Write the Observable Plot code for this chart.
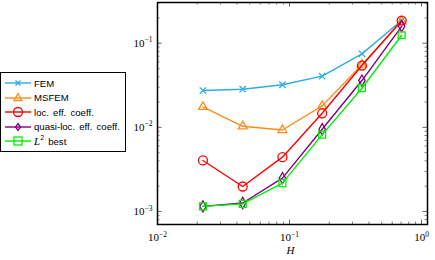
<!DOCTYPE html>
<html>
<head>
<meta charset="utf-8">
<script src="https://cdn.jsdelivr.net/npm/d3@7"></script>
<script src="https://cdn.jsdelivr.net/npm/@observablehq/plot@0.6"></script>
<style>
  html, body { margin: 0; padding: 0; background: #fff; }
  #wrap { position: relative; width: 435px; height: 260px; overflow: hidden; }
  #legend { position: absolute; left: 0px; top: 72px; width: 126px; height: 80px;
    border: 1.3px solid #000; background: #fff; box-sizing: border-box;
    font-family: "Liberation Sans", Arial, sans-serif; font-size: 9.6px; color: #000; }
  .row { position: absolute; left: 0; height: 14px; display: flex; align-items: center; }
  .row svg { display: block; }
  .row span { margin-left: 1px; white-space: pre; word-spacing: 1.5px; }
</style>
</head>
<body>
<div id="wrap"></div>
<script>
// ---- data ----
const H = [0.0221, 0.0442, 0.0884, 0.1768, 0.3536, 0.7071];
const seriesNames = ["FEM", "MSFEM", "loc. eff. coeff.", "quasi-loc. eff. coeff.", "L2 best"];
const fem   = [0.0274, 0.0284, 0.0321, 0.0406, 0.0748, 0.186];
const msfem = [0.0175, 0.0103, 0.0093, 0.0180, 0.0556, 0.182];
const loc   = [0.00404, 0.00198, 0.00442, 0.0147, 0.0543, 0.186];
const quasi = [0.00115, 0.00126, 0.00249, 0.0095, 0.0360, 0.159];
const l2best = [0.00115, 0.00123, 0.00217, 0.0082, 0.0292, 0.1245];
const colors = ["#2aaee6", "#ff8c1a", "#ff0000", "#800080", "#00f000"];
const symbols = ["times", "triangle2", "circle", "diamond", "square2"];
const xMajor = [0.01, 0.1, 1];
const xMinor = [0.02,0.03,0.04,0.05,0.06,0.07,0.08,0.09,0.2,0.3,0.4,0.5,0.6,0.7,0.8,0.9];
const yMajor = [0.001, 0.01, 0.1];
const yMinor = [0.0008,0.0009,0.002,0.003,0.004,0.005,0.006,0.007,0.008,0.009,0.02,0.03,0.04,0.05,0.06,0.07,0.08,0.09,0.2,0.3];

const values = [fem, msfem, loc, quasi, l2best];
const rows = [];
values.forEach((vals, s) => vals.forEach((v, i) => rows.push({series: seriesNames[s], s, H: H[i], v})));

// ---- layout ----
const W = 435, Ht = 260, ml = 157, mr = 8, mt = 2, mb = 36;
const innerW = W - ml - mr, innerH = Ht - mt - mb;
const serif = "'Liberation Serif', 'DejaVu Serif', serif";

const marks = [];
// ticks (inward, all four sides)
marks.push(Plot.tickX(xMajor, {x: d => d, insetTop: innerH - 4.5, stroke: "#000", strokeWidth: 0.6}));
marks.push(Plot.tickX(xMajor, {x: d => d, insetBottom: innerH - 4.5, stroke: "#000", strokeWidth: 0.6}));
marks.push(Plot.tickX(xMinor, {x: d => d, insetTop: innerH - 2.5, stroke: "#000", strokeWidth: 0.5}));
marks.push(Plot.tickX(xMinor, {x: d => d, insetBottom: innerH - 2.5, stroke: "#000", strokeWidth: 0.5}));
marks.push(Plot.tickY(yMajor, {y: d => d, insetRight: innerW - 4.5, stroke: "#000", strokeWidth: 0.6}));
marks.push(Plot.tickY(yMajor, {y: d => d, insetLeft: innerW - 4.5, stroke: "#000", strokeWidth: 0.6}));
marks.push(Plot.tickY(yMinor, {y: d => d, insetRight: innerW - 2.5, stroke: "#000", strokeWidth: 0.5}));
marks.push(Plot.tickY(yMinor, {y: d => d, insetLeft: innerW - 2.5, stroke: "#000", strokeWidth: 0.5}));

// series
seriesNames.forEach((name, s) => {
  const d = rows.filter(r => r.s === s);
  marks.push(Plot.line(d, {x: "H", y: "v", stroke: colors[s], strokeWidth: 1.4}));
  const r = [3, 4.2, 4.5, 3.4, 4.4][s];
  marks.push(Plot.dot(d, {x: "H", y: "v", stroke: colors[s], fill: "none", strokeWidth: 1.3, symbol: () => symbols[s], r}));
});

marks.push(Plot.frame({stroke: "#000", strokeWidth: 1.5}));

// axis labels
marks.push(Plot.axisX(xMajor, {tickSize: 0, tickPadding: 9, tickFormat: d => "10^" + Math.round(Math.log10(d)), fontSize: 11, fontFamily: serif, label: null}));
marks.push(Plot.axisY(yMajor, {tickSize: 0, tickPadding: 5, tickFormat: d => "10^" + Math.round(Math.log10(d)), fontSize: 11, fontFamily: serif, label: null}));
marks.push(Plot.text(["H"], {frameAnchor: "bottom", dy: 29, dx: -2, text: d => d, fontStyle: "italic", fontFamily: serif, fontSize: 11}));

const chart = Plot.plot({
  width: W, height: Ht,
  marginLeft: ml, marginRight: mr, marginTop: mt, marginBottom: mb,
  x: {type: "log", domain: [0.01, 1.11]},
  y: {type: "log", domain: [0.0007, 0.305]},
  style: {background: "#fff", overflow: "visible"},
  marks
});

// superscripts
chart.querySelectorAll("text").forEach(t => {
  const s = t.textContent;
  if (s.startsWith("10^")) {
    const e = s.slice(3).replace("-", "\u2212");
    t.textContent = "";
    const a = document.createElementNS("http://www.w3.org/2000/svg", "tspan");
    a.textContent = "10";
    const b = document.createElementNS("http://www.w3.org/2000/svg", "tspan");
    b.textContent = e;
    b.setAttribute("dy", "-4.5");
    b.setAttribute("font-size", "7.5");
    t.appendChild(a); t.appendChild(b);
  }
});

const wrap = document.getElementById("wrap");
wrap.appendChild(chart);

// legend
const legend = document.createElement("div");
legend.id = "legend";
const rowTops = [3, 17.5, 32, 46.5, 61];
const symDraw = [
  c => `<path d="M14.5,4.5 L19.5,9.5 M14.5,9.5 L19.5,4.5" stroke="${c}" stroke-width="1.3"/>`,
  c => `<path d="M17,2.5 L21,9.5 L13,9.5 Z" stroke="${c}" fill="none" stroke-width="1.3"/>`,
  c => `<circle cx="17" cy="7" r="4.5" stroke="${c}" fill="none" stroke-width="1.3"/>`,
  c => `<path d="M17,3.5 L19.5,7 L17,10.5 L14.5,7 Z" stroke="${c}" fill="none" stroke-width="1.3"/>`,
  c => `<rect x="13" y="3" width="8" height="8" stroke="${c}" fill="none" stroke-width="1.3"/>`
];
const labelsHtml = ["FEM", "MSFEM", "loc. eff. coeff.", "quasi-loc. eff. coeff.",
  `<i style="font-family:${serif.replace(/'/g, "&quot;")};font-size:11px">L</i><sup style="font-size:7px;position:relative;top:-1px">2</sup> best`];
seriesNames.forEach((name, s) => {
  const row = document.createElement("div");
  row.className = "row";
  row.style.top = rowTops[s] + "px";
  row.innerHTML = `<svg width="32" height="14"><line x1="4" y1="7" x2="30" y2="7" stroke="${colors[s]}" stroke-width="1.4"/>${symDraw[s](colors[s])}</svg><span>${labelsHtml[s]}</span>`;
  legend.appendChild(row);
});
wrap.appendChild(legend);
</script>
</body>
</html>
